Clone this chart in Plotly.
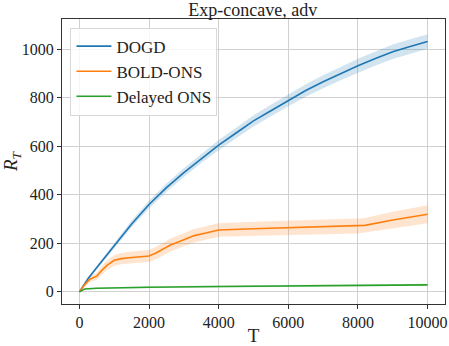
import plotly.graph_objects as go

# ---- data ----
t_dogd = [0, 250, 500, 1000, 1500, 2000, 2500, 3000, 3500, 4000, 4500, 5000,
          5500, 6000, 6500, 7000, 7500, 8000, 8500, 9000, 9500, 10000]
dogd = [0, 55, 100, 190, 280, 360, 430, 492, 550, 605, 655, 705,
        747, 790, 830, 866, 900, 932, 962, 990, 1012, 1032]
dogd_sd = [0, 6, 8, 12, 14, 16, 17, 18, 19, 21, 22, 23,
           24, 25, 26, 27, 28, 29, 29, 30, 30, 30]

t_bold = [0, 150, 300, 500, 650, 800, 1000, 1200, 1500, 2000, 2200, 2600,
          3000, 3300, 3600, 4000, 5000, 6000, 7000, 8000, 8200, 9000, 10000]
bold = [0, 30, 52, 65, 90, 110, 130, 137, 142, 148, 160, 192,
        215, 232, 242, 255, 260, 265, 268, 272, 274, 296, 320]
bold_sd = [0, 8, 12, 15, 18, 20, 22, 23, 24, 25, 26, 27,
           27, 28, 28, 28, 29, 30, 30, 31, 31, 34, 37]

t_ons = [0, 150, 500, 1000, 2000, 4000, 6000, 8000, 10000]
ons = [0, 12, 15, 17, 19, 22, 25, 27, 29]
ons_sd = [0, 2, 3, 3, 4, 4, 4, 4, 4]

x_ticks = [0, 2000, 4000, 6000, 8000, 10000]
x_tick_labels = ["0", "2000", "4000", "6000", "8000", "10000"]
y_ticks = [0, 200, 400, 600, 800, 1000]
y_tick_labels = ["0", "200", "400", "600", "800", "1000"]

series = [
    ("DOGD", t_dogd, dogd, dogd_sd, "#1f77b4", "rgba(31,119,180,0.2)"),
    ("BOLD-ONS", t_bold, bold, bold_sd, "#ff7f0e", "rgba(255,127,14,0.2)"),
    ("Delayed ONS", t_ons, ons, ons_sd, "#2ca02c", "rgba(44,160,44,0.2)"),
]

fig = go.Figure()
for name, t, y, sd, col, fill in series:
    upper = [a + b for a, b in zip(y, sd)]
    lower = [a - b for a, b in zip(y, sd)]
    fig.add_trace(go.Scatter(x=t + t[::-1], y=upper + lower[::-1], fill="toself",
                             fillcolor=fill, line=dict(width=0), hoverinfo="skip",
                             showlegend=False, mode="lines"))
for name, t, y, sd, col, fill in series:
    fig.add_trace(go.Scatter(x=t, y=y, mode="lines", name=name,
                             line=dict(color=col, width=1.6)))

font = "Liberation Serif, DejaVu Serif, serif"
axis_common = dict(showgrid=True, gridcolor="#d0d0d0", gridwidth=1,
                   showline=True, linecolor="#333", linewidth=1, mirror=True,
                   ticks="outside", ticklen=4, tickcolor="#333", zeroline=False,
                   automargin=False,
                   tickfont=dict(size=16, family=font, color="#222"))
fig.update_layout(
    width=449, height=346,
    margin=dict(l=62, r=4, t=19, b=42, autoexpand=False),
    paper_bgcolor="white", plot_bgcolor="white",
    font=dict(family=font, color="#222", size=16),
    title=dict(text="Exp-concave, adv", x=0.563, xanchor="center",
               xref="container", yref="container", y=0.972, yanchor="middle",
               font=dict(size=18, family=font)),
    xaxis=dict(range=[-500, 10500], tickvals=x_ticks, ticktext=x_tick_labels,
               title=dict(text="T", font=dict(size=19, family=font), standoff=2),
               **axis_common),
    yaxis=dict(range=[-50, 1125], tickvals=y_ticks, ticktext=y_tick_labels,
               title=dict(text="<i>R</i><sub><i>T</i></sub>", font=dict(size=19, family=font),
                          standoff=10),
               **axis_common),
    legend=dict(x=0.022, y=0.97, xanchor="left", yanchor="top",
                bgcolor="rgba(255,255,255,0.8)", bordercolor="#d8d8d8", borderwidth=1,
                font=dict(size=17, family=font), itemwidth=35,
                tracegroupgap=0),
)
fig.write_html("out.html", config={"displayModeBar": False},
               post_script="document.body.style.margin='0';document.body.style.padding='0';")
